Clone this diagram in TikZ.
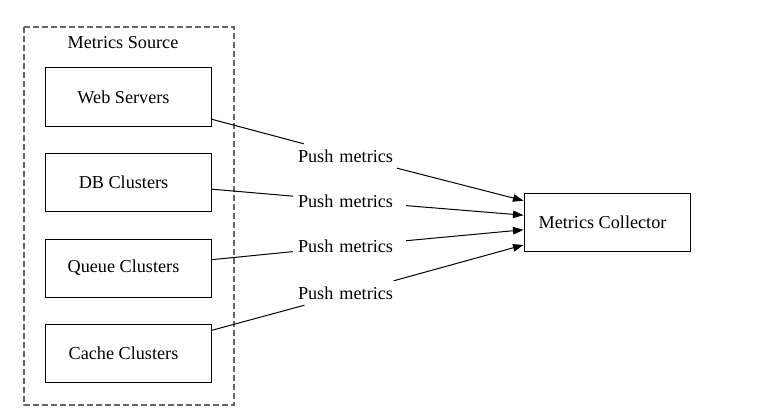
\documentclass[tikz,border=0pt]{standalone}
\usepackage{fontspec}
\setmainfont{Liberation Serif}
\usetikzlibrary{arrows.meta}
\begin{document}
\begin{tikzpicture}[x=1pt,y=-1pt,
  every node/.style={font=\fontsize{18.2}{22}\selectfont},
  box/.style={draw=black,line width=1pt,minimum width=166pt,minimum height=58pt,inner sep=0pt,
    execute at end node={\hspace*{9pt}}},
  lbl/.style={text width=103pt,align=left,inner xsep=5pt,inner ysep=0pt,minimum height=24pt},
  edge/.style={line width=1pt,-{Triangle[length=10.5pt,width=7.5pt]}},
  plain/.style={line width=1pt},
  cluster/.style={draw=black!60,line width=1.2pt,dash pattern=on 6pt off 3pt}]
\useasboundingbox (0,0) rectangle (760,420);
\draw[cluster] (24,27) rectangle (234,405);
\node (title) at (123,43) {Metrics Source};
\node[box] (ws) at (128,97) {Web Servers};
\node[box] (db) at (128,182) {DB Clusters};
\node[box] (qc) at (128,268) {Queue Clusters};
\node[box] (cc) at (128,353) {Cache Clusters};
\node[box] (mc) at (607,222) {Metrics Collector};
\node[lbl] (l1) at (349.5,156) {Push metrics};
\node[lbl] (l2) at (349.5,201) {Push metrics};
\node[lbl] (l3) at (349.5,246) {Push metrics};
\node[lbl] (l4) at (349.5,293) {Push metrics};
\draw[plain] (ws) -- (l1);
\draw[edge] (l1) -- (mc);
\draw[plain] (db) -- (l2);
\draw[edge] (l2) -- (mc);
\draw[plain] (qc) -- (l3);
\draw[edge] (l3) -- (mc);
\draw[plain] (cc) -- (l4);
\draw[edge] (l4) -- (mc);
\end{tikzpicture}
\end{document}
